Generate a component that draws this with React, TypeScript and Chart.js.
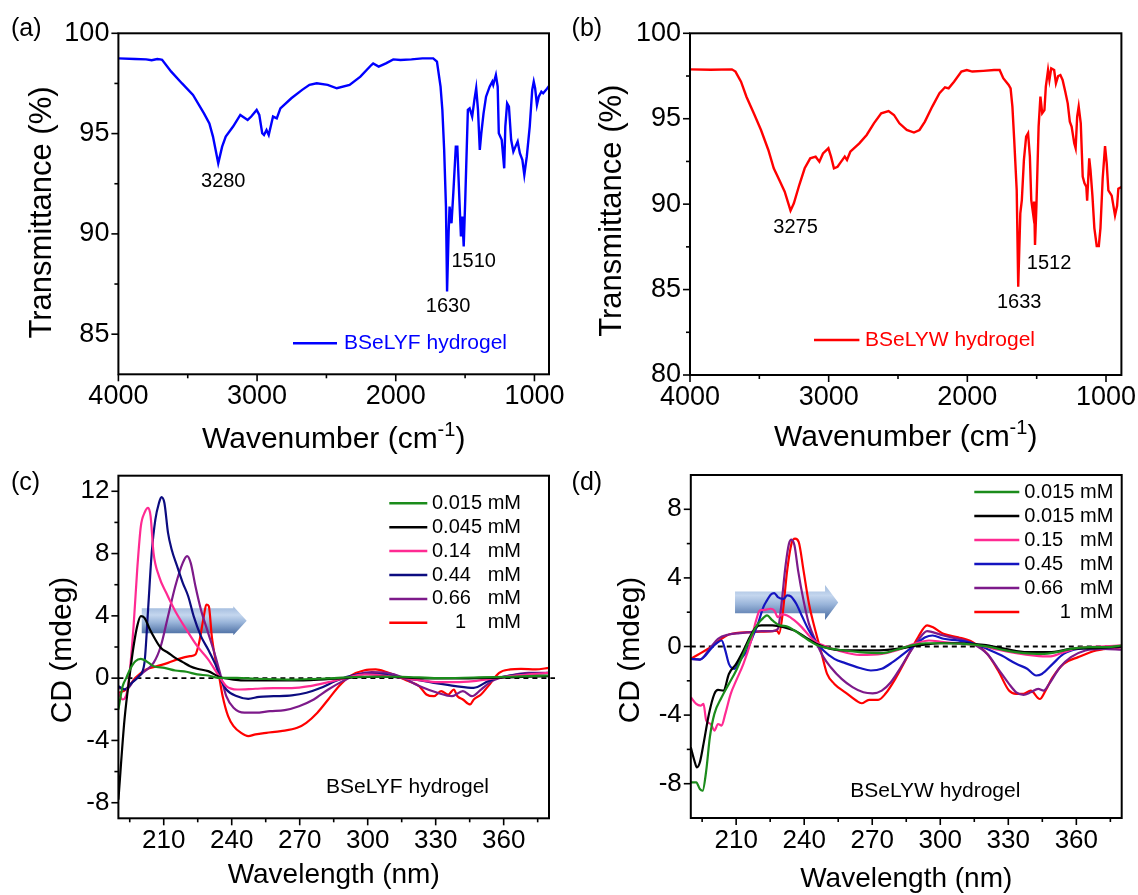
import React, { useEffect, useRef } from "react";
import { Chart, registerables } from "chart.js";

Chart.register(...registerables);

const FONT = "'Liberation Sans', Arial, Helvetica, sans-serif";

type Pt = [number, number];

// ---------- FTIR spectra: [wavenumber (cm-1), transmittance (%)] ----------
const ftirBSeLYF: Pt[] = [
  [4000, 98.75], [3880, 98.72], [3800, 98.7], [3760, 98.66], [3720, 98.72], [3698, 98.7], [3685, 98.68],
  [3619, 98.09], [3541, 97.5], [3462, 96.93], [3383, 96.01], [3344, 95.51], [3318, 94.85], [3280, 93.52],
  [3252, 94.35], [3226, 94.85], [3173, 95.35], [3121, 95.93], [3068, 95.68], [3042, 95.85], [3003, 96.18],
  [2984, 95.93], [2963, 95.02], [2950, 94.93], [2932, 95.18], [2916, 94.93], [2885, 95.85], [2858, 95.76],
  [2832, 96.26], [2753, 96.76], [2675, 97.18], [2622, 97.43], [2570, 97.51], [2491, 97.43], [2425, 97.26],
  [2333, 97.43], [2255, 97.84], [2176, 98.42], [2163, 98.5], [2123, 98.34], [2071, 98.5], [2018, 98.7],
  [1966, 98.67], [1887, 98.7], [1808, 98.75], [1730, 98.75], [1703, 98.59], [1677, 97.34], [1664, 96.18],
  [1651, 94.19], [1638, 91.36], [1630, 87.13], [1619, 90.03], [1612, 91.36], [1598, 90.53], [1585, 92.03],
  [1567, 94.35], [1556, 94.35], [1541, 91.69], [1530, 89.87], [1520, 90.86], [1510, 89.37], [1499, 91.69],
  [1480, 96.18], [1467, 96.26], [1449, 95.85], [1433, 96.68], [1420, 97.26], [1407, 96.18], [1394, 94.19],
  [1383, 95.02], [1367, 96.01], [1349, 96.84], [1323, 97.34], [1304, 97.59], [1297, 97.43], [1278, 97.92],
  [1265, 97.34], [1257, 95.02], [1236, 94.69], [1218, 93.27], [1210, 95.35], [1197, 96.51], [1184, 96.35],
  [1168, 94.69], [1152, 94.1], [1137, 94.35], [1121, 94.6], [1105, 94.02], [1087, 93.69], [1073, 92.94],
  [1055, 93.86], [1034, 95.35], [1016, 97.18], [1005, 97.59], [995, 97.26], [982, 96.43], [969, 96.84],
  [950, 97.09], [937, 97.01], [916, 97.18], [895, 97.38],
];

const ftirBSeLYW: Pt[] = [
  [4000, 97.89], [3850, 97.87], [3698, 97.89], [3672, 97.76], [3632, 97.17], [3593, 96.29], [3540, 95.32],
  [3488, 94.34], [3435, 93.17], [3396, 92.1], [3356, 91.41], [3317, 90.73], [3291, 90.05], [3275, 89.62],
  [3251, 90.05], [3212, 91.12], [3173, 92.1], [3133, 92.68], [3094, 92.78], [3067, 92.49], [3041, 92.97],
  [3002, 93.27], [2983, 92.78], [2962, 92.1], [2936, 92.19], [2910, 92.49], [2884, 92.78], [2868, 92.59],
  [2844, 93.07], [2779, 93.56], [2726, 94.05], [2674, 94.73], [2621, 95.32], [2568, 95.45], [2529, 95.22],
  [2490, 94.73], [2437, 94.34], [2385, 94.19], [2345, 94.34], [2306, 94.83], [2253, 95.71], [2201, 96.49],
  [2161, 96.84], [2135, 96.78], [2096, 97.17], [2043, 97.76], [2004, 97.85], [1964, 97.76], [1885, 97.8],
  [1807, 97.85], [1767, 97.85], [1741, 97.37], [1702, 96.98], [1688, 96.78], [1675, 95.71], [1662, 93.76],
  [1644, 90.83], [1633, 85.17], [1618, 89.46], [1607, 90.24], [1592, 92.59], [1576, 93.95], [1562, 94.15],
  [1549, 92.78], [1539, 90.24], [1526, 89.46], [1518, 90.15], [1512, 87.61], [1502, 89.85], [1486, 94.54],
  [1473, 96.29], [1460, 95.32], [1444, 95.51], [1434, 96.88], [1418, 97.85], [1408, 97.27], [1395, 97.95],
  [1374, 97.85], [1361, 97.07], [1345, 97.5], [1329, 97.56], [1313, 97.27], [1294, 96.59], [1276, 95.9],
  [1261, 94.83], [1248, 94.54], [1229, 93.56], [1219, 93.27], [1208, 95.12], [1197, 95.71], [1182, 94.73],
  [1168, 91.61], [1155, 91.22], [1142, 91.02], [1136, 90.2], [1121, 92.68], [1112, 92.0], [1098, 90.5],
  [1084, 88.6], [1067, 87.55], [1052, 87.55], [1040, 88.6], [1024, 91.5], [1007, 93.4], [995, 92.4],
  [983, 90.8], [959, 90.5], [935, 89.34], [920, 89.9], [911, 90.9], [889, 91.0],
];

const ftirTicksX = [4000, 3000, 2000, 1000];
const ftirMinorX = [3500, 2500, 1500];
const ftirTicksYA = [85, 90, 95, 100];
const ftirMinorYA = [87.5, 92.5, 97.5];
const ftirTicksYB = [80, 85, 90, 95, 100];
const ftirMinorYB = [82.5, 87.5, 92.5, 97.5];

const peaksA = [3280, 1630, 1510];
const peaksB = [3275, 1633, 1512];

// ---------- CD spectra: [wavelength (nm), CD (mdeg)] ----------
const cdTicksX = [210, 240, 270, 300, 330, 360];
const cdMinorX = [195, 225, 255, 285, 315, 345, 375];
const cdTicksYC = [-8, -4, 0, 4, 8, 12];
const cdMinorYC = [-6, -2, 2, 6, 10];
const cdTicksYD = [-8, -4, 0, 4, 8];
const cdMinorYD = [-6, -2, 2, 6];

const concC = ["0.015", "0.045", "0.14", "0.44", "0.66", "1"];
const concD = ["0.015", "0.015", "0.15", "0.45", "0.66", "1"];
const colorsC = ["#1b8c1b", "#000000", "#ff2a92", "#0c0c80", "#7d1a8a", "#ff0000"];
const colorsD = ["#1b8c1b", "#000000", "#ff2a92", "#1414c0", "#7d1a8a", "#ff0000"];

const cdC_0015: Pt[] = [
  [190, -2.01], [191.9, -0.51], [193.5, 0.02], [195.1, 0.56], [197.5, 1.09], [199.9, 1.24], [202.3, 1.09],
  [205.5, 0.77], [210.3, 0.66], [215.1, 0.49], [220, 0.41], [224.8, 0.24], [229.6, 0.17], [234.4, 0.02],
  [242.4, 0.02], [250.5, -0.04], [266.5, -0.09], [282.6, -0.02], [298.6, 0.09], [314.7, 0.09], [330.8, 0],
  [346.8, 0.04], [362.9, 0.09], [380, 0.17],
];
const cdC_0045: Pt[] = [
  [190, -7.8], [192.7, -2.65], [195.1, 0.34], [196.7, 2.05], [198.3, 3.34], [199.9, 3.98], [201.5, 3.87],
  [203.9, 3.12], [206.3, 2.48], [208.7, 1.95], [211.9, 1.63], [215.1, 1.3], [218.4, 1.03], [221.6, 0.77],
  [224.8, 0.6], [229.6, 0.45], [234.4, 0.09], [240.8, -0.09], [247.3, -0.15], [258.5, -0.15], [274.6, -0.13],
  [290.6, 0.02], [306.7, 0.09], [322.7, 0], [338.8, -0.02], [354.8, 0.02], [370.9, 0.09], [380, 0.13],
];
const cdC_014: Pt[] = [
  [190, -0.94], [191.9, -1.37], [194.3, -0.51], [196.7, 3.34], [198.3, 6.97], [199.9, 9.75], [201.5, 10.61],
  [203.1, 10.93], [204.2, 10.4], [205.5, 8.04], [207.9, 6.55], [211.1, 5.48], [215.1, 4.3], [220, 3.12],
  [224.8, 2.05], [229.6, 1.2], [234.4, 0.13], [237.6, -0.51], [242.4, -0.73], [250.5, -0.68], [258.5, -0.64],
  [266.5, -0.64], [274.6, -0.51], [282.6, -0.26], [290.6, 0.02], [298.6, 0.24], [306.7, 0.17], [314.7, 0.02],
  [322.7, -0.13], [330.8, -0.26], [338.8, -0.26], [346.8, -0.19], [354.8, -0.04], [362.9, 0.13], [370.9, 0.24],
  [380, 0.34],
];
const cdC_044: Pt[] = [
  [190, -0.51], [192.7, -0.73], [195.9, -0.3], [199.1, 0.13], [201.5, 0.98], [203.1, 4.41], [204.7, 8.04],
  [206.3, 10.18], [207.9, 11.25], [209.0, 11.63], [210.3, 11.25], [211.9, 9.33], [213.5, 8.26], [215.9, 7.19],
  [218.4, 6.12], [220.8, 5.26], [223.2, 3.98], [226.4, 2.7], [229.6, 1.84], [232.8, 0.88], [235.2, -0.09],
  [237.6, -0.73], [242.4, -1.16], [247.3, -1.33], [252.1, -1.2], [258.5, -1.16], [266.5, -1.11], [273, -0.94],
  [279.4, -0.62], [285.8, -0.19], [292.2, 0.13], [298.6, 0.28], [306.7, 0.24], [314.7, 0.02], [322.7, -0.13],
  [330.8, -0.34], [338.8, -0.51], [346.8, -0.62], [353.2, -0.19], [359.6, 0.09], [367.6, 0.24], [380, 0.34],
];
const cdC_066: Pt[] = [
  [190, -0.62], [193.5, -0.73], [196.7, -0.19], [200.7, 0.34], [205.5, 0.98], [208.7, 2.05], [211.9, 3.98],
  [215.1, 5.9], [218.4, 7.4], [220.3, 7.83], [221.9, 7.4], [224, 5.9], [226.4, 4.41], [229.6, 2.91],
  [232.8, 1.41], [235.2, 0.13], [237.6, -1.16], [240.8, -1.9], [245.6, -2.22], [250.5, -2.22], [256.9, -2.12],
  [263.4, -2.05], [269.7, -1.8], [276.2, -1.37], [282.6, -0.73], [289, -0.19], [295.4, 0.24], [301.9, 0.39],
  [308.3, 0.34], [314.7, 0.09], [322.7, -0.51], [330.8, -0.94], [337.2, -1.16], [342, -0.83], [346, -1.16],
  [350, -0.73], [354.8, -0.19], [362.9, 0.17], [370.9, 0.34], [380, 0.34],
];
const cdC_1: Pt[] = [
  [190, -0.94], [193.5, -0.73], [197.5, 0.02], [202.3, 0.56], [207.1, 0.77], [211.9, 0.98], [216.7, 1.24],
  [221.6, 1.41], [224, 1.52], [225.6, 2.27], [227.7, 3.98], [228.8, 4.73], [229.9, 4.62], [231.2, 2.7],
  [232.8, 1.2], [234.4, 0.13], [236, -1.16], [238.4, -2.44], [240.8, -3.08], [244.1, -3.51], [247.3, -3.72],
  [250.5, -3.61], [255.3, -3.51], [261.7, -3.4], [268.9, -3.19], [272.9, -2.87], [277.8, -2.22], [282.6, -1.37],
  [287.4, -0.51], [292.2, 0.13], [298.6, 0.51], [303.5, 0.56], [308.3, 0.39], [313.1, 0.13], [317.9, -0.19],
  [322.7, -0.51], [325.9, -1.05], [329.2, -1.16], [332.4, -0.83], [335.6, -1.05], [338, -0.73], [339.6, -1.16],
  [342, -1.37], [345.2, -1.69], [346.8, -1.37], [350, -1.05], [353.2, -0.51], [358, 0.34], [362.9, 0.56],
  [367.6, 0.6], [374.1, 0.56], [380, 0.66],
];

const cdD_0015a: Pt[] = [
  [190, -7.92], [192.4, -7.92], [194, -8.31], [195.2, -8.41], [196.8, -7.24], [198.4, -5.29], [200.4, -3.93],
  [203.6, -2.96], [206.8, -2.18], [210, -1.4], [213.2, -0.43], [216.4, 0.54], [219.6, 1.32], [222, 1.67],
  [223.6, 1.81], [226, 1.52], [229.3, 1.23], [232.5, 1.17], [235.7, 0.93], [238.9, 0.64], [242.1, 0.35],
  [245.3, 0.1], [248.5, -0.04], [254.9, -0.19], [264.5, -0.33], [274.2, -0.39], [280.6, -0.19], [287, 0.06],
  [293.4, 0.19], [301.4, 0.19], [309.5, 0.16], [315.9, 0.1], [322.3, -0.04], [328.7, -0.23], [336.7, -0.39],
  [344.8, -0.43], [351.2, -0.33], [357.6, -0.14], [365.6, -0.04], [373.6, -0.04], [380, 0.06],
];
const cdD_0015b: Pt[] = [
  [190, -5.88], [191.6, -6.66], [192.7, -7.05], [194, -6.75], [195.6, -5.68], [198, -3.93], [200.4, -2.76],
  [202, -2.53], [204.4, -2.57], [206.8, -1.6], [210, -1.01], [213.2, -0.23], [216.4, 0.64], [218.8, 1.13],
  [221.2, 1.23], [226, 1.23], [230.9, 1.13], [235.7, 0.93], [240.5, 0.55], [245.3, 0.16], [251.7, -0.14],
  [261.3, -0.23], [271, -0.23], [280.6, -0.14], [290.2, 0.06], [299.8, 0.19], [309.5, 0.19], [319.1, 0.1],
  [328.7, -0.14], [338.3, -0.33], [348, -0.33], [357.6, -0.14], [367.2, -0.1], [380, 0],
];
const cdD_015: Pt[] = [
  [190, -2.96], [192.4, -3.35], [194.3, -3.45], [195.6, -3.35], [196.8, -4.32], [198.8, -4.52], [200.4, -4.9],
  [202, -4.52], [203.6, -4.61], [205.2, -3.93], [207.6, -2.76], [210, -1.99], [213.2, -1.01], [216.4, 0.25],
  [218.8, 1.52], [220.4, 2.1], [222.8, 2.14], [225.2, 2.2], [226.8, 2.1], [228.4, 1.71], [230, 1.87],
  [232.5, 1.81], [235.7, 1.52], [238.9, 1.13], [242.1, 0.64], [245.3, 0.25], [248.5, 0.06], [254.9, -0.23],
  [264.5, -0.49], [274.2, -0.43], [280.6, -0.23], [288.6, 0.16], [295, 0.35], [301.4, 0.25], [309.5, 0.16],
  [317.5, 0.06], [325.5, -0.19], [333.5, -0.39], [341.6, -0.53], [348, -0.58], [354.4, -0.33], [360.8, -0.08],
  [370.4, 0], [380, 0.06],
];
const cdD_045: Pt[] = [
  [190, -0.72], [194, -0.76], [196.4, -0.53], [198.8, -0.14], [202, 0.25], [203.6, 0.35], [205.2, -0.23],
  [206.8, -1.01], [209.2, -1.3], [211.6, -0.82], [214.8, -0.23], [217.2, 0.54], [219.6, 1.32], [222, 2.3],
  [223.6, 2.69], [225.2, 3.02], [226.8, 3.11], [228.4, 2.88], [230.9, 2.78], [232.5, 2.98], [234.1, 2.92],
  [236.5, 2.49], [238.9, 1.81], [242.1, 0.93], [245.3, 0.25], [248.5, -0.23], [253.3, -0.72], [258.1, -0.97],
  [264.5, -1.25], [269.4, -1.4], [274.2, -1.3], [279, -0.91], [283.8, -0.43], [288.6, 0.06], [293.4, 0.54],
  [296.6, 0.64], [301.4, 0.45], [307.9, 0.35], [314.3, 0.19], [320.7, -0.14], [327.1, -0.53], [333.5, -1.01],
  [338.3, -1.3], [342.3, -1.69], [344.8, -1.6], [349.6, -1.01], [354.4, -0.43], [360.8, -0.14], [368.8, -0.08],
  [380, 0],
];
const cdD_066: Pt[] = [
  [190, -0.72], [194, -0.76], [198.8, -0.04], [202, 0.45], [206.8, 0.7], [211.6, 0.78], [216.4, 0.84],
  [221.2, 0.9], [226, 0.9], [228.4, 1.03], [230, 2.49], [231.7, 4.63], [233.3, 6.0], [234.4, 6.23],
  [235.7, 5.9], [237.3, 4.44], [239.7, 2.69], [242.1, 1.32], [245.3, 0.25], [248.5, -0.62], [251.7, -1.21],
  [256.5, -1.89], [261.3, -2.37], [266.1, -2.67], [270.2, -2.73], [274.2, -2.57], [278.2, -2.08], [282.2, -1.3],
  [286.2, -0.43], [290.2, 0.35], [294.2, 0.9], [296.6, 0.84], [301.4, 0.64], [307.9, 0.45], [314.3, 0.16],
  [320.7, -0.43], [325.5, -1.3], [330.3, -2.18], [333.5, -2.67], [336.7, -2.82], [339.9, -2.67], [343.2, -2.47],
  [345.6, -2.57], [348, -2.18], [352.8, -1.21], [357.6, -0.62], [364, -0.23], [372, -0.14], [380, -0.19],
];
const cdD_1: Pt[] = [
  [190, -0.72], [198.8, -0.04], [206.8, 0.7], [216.4, 0.84], [226, 0.9], [228, 0.93], [228.9, 0.74],
  [230.5, 1.91], [232.5, 4.44], [234.4, 6.0], [236, 6.29], [237.6, 6.09], [239.7, 4.44], [242.1, 2.49],
  [245.3, 0.74], [247.7, -0.43], [250.1, -1.6], [253.3, -2.18], [258.1, -2.67], [262.9, -3.15], [265.3, -3.31],
  [268.6, -3.11], [272.6, -3.11], [275.8, -2.76], [280.6, -1.79], [285.4, -0.62], [290.2, 0.54], [294.2, 1.23],
  [296.6, 1.13], [301.4, 0.74], [307.9, 0.54], [314.3, 0.25], [320.7, -0.43], [325.5, -1.4], [330.3, -2.57],
  [333.5, -2.76], [336.7, -2.76], [339.9, -2.57], [343.9, -3.06], [346.4, -2.57], [349.6, -1.79], [354.4, -1.01],
  [360.8, -0.62], [368.8, -0.23], [380, -0.04],
];

// ---------- panel layout & decoration ----------
interface Series { label: string; data: Pt[]; color: string }

interface PanelCfg {
  left: number; top: number; w: number; h: number;
  area: { left: number; top: number; right: number; bottom: number };
  xMin: number; xMax: number; reverse: boolean; yMin: number; yMax: number;
  xMajor: number[]; xMinor: number[]; yMajor: number[]; yMinor: number[];
  tickSize: number; xTickPad: number; yTickPad: number;
  series: Series[]; lineWidth: number; smooth: boolean;
  panelLabel: { text: string; x: number; y: number };
  yTitle: { text: string; x: number; y: number; size: number };
  xTitle: { text: string; sup?: string; tail?: string; y: number; size: number };
  peaks?: { values: number[]; offsets: Pt[]; size: number };
  irLegend?: { x0: number; x1: number; y: number; textX: number; size: number };
  cdLegend?: { x0: number; x1: number; y0: number; dy: number; numX: number; unitRight: number; oneX: number; size: number; labels: string[] };
  note?: { text: string; x: number; y: number; size: number };
  zeroLine?: { extend: number };
  arrow?: { from: number; base: number; tip: number; y: number; body: number; head: number };
}

function font(size: number) {
  return `${size}px ${FONT}`;
}

function makeDecor(p: PanelCfg) {
  return {
    id: "decor",
    beforeDatasetsDraw(chart: any) {
      const { ctx, chartArea: a, scales } = chart;
      const xs = scales.x;
      const ys = scales.y;
      ctx.save();
      if (p.zeroLine) {
        const y0 = ys.getPixelForValue(0);
        ctx.strokeStyle = "#000";
        ctx.lineWidth = 1.8;
        ctx.setLineDash([5, 4]);
        ctx.beginPath();
        ctx.moveTo(a.left, y0);
        ctx.lineTo(a.right + p.zeroLine.extend, y0);
        ctx.stroke();
        ctx.setLineDash([]);
      }
      if (p.arrow) {
        const ar = p.arrow;
        const x0 = xs.getPixelForValue(ar.from);
        const x1 = xs.getPixelForValue(ar.base);
        const xt = xs.getPixelForValue(ar.tip);
        const yc = ys.getPixelForValue(ar.y);
        const g = ctx.createLinearGradient(0, yc - ar.head, 0, yc + ar.head);
        g.addColorStop(0, "#9fb9dc");
        g.addColorStop(0.3, "#c4d6ee");
        g.addColorStop(0.55, "#9ab5da");
        g.addColorStop(1, "#45689e");
        ctx.fillStyle = g;
        ctx.beginPath();
        ctx.moveTo(x0, yc - ar.body);
        ctx.lineTo(x1, yc - ar.body);
        ctx.lineTo(x1, yc - ar.head);
        ctx.lineTo(xt, yc);
        ctx.lineTo(x1, yc + ar.head);
        ctx.lineTo(x1, yc + ar.body);
        ctx.lineTo(x0, yc + ar.body);
        ctx.closePath();
        ctx.fill();
      }
      ctx.restore();
    },
    afterDatasetsDraw(chart: any) {
      const { ctx, chartArea: a, scales } = chart;
      const xs = scales.x;
      const ys = scales.y;
      ctx.save();

      // frame
      ctx.strokeStyle = "#000";
      ctx.lineWidth = 2;
      ctx.strokeRect(a.left, a.top, a.right - a.left, a.bottom - a.top);

      // outward ticks
      ctx.lineWidth = 1.6;
      const tickX = (v: number, len: number) => {
        const px = xs.getPixelForValue(v);
        ctx.beginPath();
        ctx.moveTo(px, a.bottom);
        ctx.lineTo(px, a.bottom + len);
        ctx.stroke();
      };
      const tickY = (v: number, len: number) => {
        const py = ys.getPixelForValue(v);
        ctx.beginPath();
        ctx.moveTo(a.left, py);
        ctx.lineTo(a.left - len, py);
        ctx.stroke();
      };
      p.xMajor.forEach((v) => tickX(v, 7));
      p.xMinor.forEach((v) => tickX(v, 4));
      p.yMajor.forEach((v) => tickY(v, 7));
      p.yMinor.forEach((v) => tickY(v, 4));

      ctx.fillStyle = "#000";

      // panel letter
      ctx.font = font(25);
      ctx.textAlign = "left";
      ctx.textBaseline = "alphabetic";
      ctx.fillText(p.panelLabel.text, p.panelLabel.x, p.panelLabel.y);

      // y title
      ctx.save();
      ctx.translate(p.yTitle.x, p.yTitle.y);
      ctx.rotate(-Math.PI / 2);
      ctx.font = font(p.yTitle.size);
      ctx.textAlign = "center";
      ctx.textBaseline = "middle";
      ctx.fillText(p.yTitle.text, 0, 0);
      ctx.restore();

      // x title (optional superscript)
      {
        const t = p.xTitle;
        const supSize = Math.round(t.size * 0.66);
        ctx.font = font(t.size);
        const w1 = ctx.measureText(t.text).width;
        const w3 = t.tail ? ctx.measureText(t.tail).width : 0;
        ctx.font = font(supSize);
        const w2 = t.sup ? ctx.measureText(t.sup).width : 0;
        const cx = (a.left + a.right) / 2;
        let x = cx - (w1 + w2 + w3) / 2;
        ctx.textAlign = "left";
        ctx.textBaseline = "alphabetic";
        ctx.font = font(t.size);
        ctx.fillText(t.text, x, t.y);
        x += w1;
        if (t.sup) {
          ctx.font = font(supSize);
          ctx.fillText(t.sup, x, t.y - t.size * 0.4);
          x += w2;
        }
        if (t.tail) {
          ctx.font = font(t.size);
          ctx.fillText(t.tail, x, t.y);
        }
      }

      // peak positions
      if (p.peaks) {
        ctx.font = font(p.peaks.size);
        ctx.textAlign = "center";
        ctx.textBaseline = "alphabetic";
        const data = p.series[0].data;
        p.peaks.values.forEach((wn, i) => {
          const pt = data.find((d) => d[0] === wn);
          const yv = pt ? pt[1] : p.yMin;
          const [dx, dy] = p.peaks!.offsets[i];
          ctx.fillText(String(wn), xs.getPixelForValue(wn) + dx, ys.getPixelForValue(yv) + dy);
        });
      }

      // single-series legend
      if (p.irLegend) {
        const L = p.irLegend;
        const s = p.series[0];
        ctx.strokeStyle = s.color;
        ctx.lineWidth = 2.5;
        ctx.beginPath();
        ctx.moveTo(L.x0, L.y);
        ctx.lineTo(L.x1, L.y);
        ctx.stroke();
        ctx.fillStyle = s.color;
        ctx.font = font(L.size);
        ctx.textAlign = "left";
        ctx.textBaseline = "middle";
        ctx.fillText(s.label, L.textX, L.y);
      }

      // concentration legend
      if (p.cdLegend) {
        const L = p.cdLegend;
        ctx.font = font(L.size);
        ctx.textBaseline = "middle";
        p.series.forEach((s, i) => {
          const y = L.y0 + i * L.dy;
          ctx.strokeStyle = s.color;
          ctx.lineWidth = 2.5;
          ctx.beginPath();
          ctx.moveTo(L.x0, y);
          ctx.lineTo(L.x1, y);
          ctx.stroke();
          ctx.fillStyle = "#000";
          const num = L.labels[i];
          ctx.textAlign = "left";
          ctx.fillText(num, num.length === 1 ? L.oneX : L.numX, y);
          ctx.textAlign = "right";
          ctx.fillText("mM", L.unitRight, y);
        });
      }

      if (p.note) {
        ctx.fillStyle = "#000";
        ctx.font = font(p.note.size);
        ctx.textAlign = "left";
        ctx.textBaseline = "alphabetic";
        ctx.fillText(p.note.text, p.note.x, p.note.y);
      }

      ctx.restore();
    },
  };
}

function buildConfig(p: PanelCfg): any {
  const zeroPad = (ax: any) => {
    ax.paddingTop = 0;
    ax.paddingBottom = 0;
    ax.paddingLeft = 0;
    ax.paddingRight = 0;
  };
  return {
    type: "line",
    data: {
      datasets: p.series.map((s) => ({
        label: s.label,
        data: s.data.map(([x, y]) => ({ x, y })),
        borderColor: s.color,
        backgroundColor: s.color,
        borderWidth: p.lineWidth,
        pointRadius: 0,
        fill: false,
        tension: 0,
        cubicInterpolationMode: p.smooth ? "monotone" : "default",
      })),
    },
    options: {
      animation: false,
      responsive: false,
      maintainAspectRatio: false,
      events: [],
      layout: { padding: { top: p.area.top, right: p.w - p.area.right, left: 0, bottom: 0 } },
      plugins: { legend: { display: false }, tooltip: { enabled: false } },
      scales: {
        x: {
          type: "linear",
          min: p.xMin,
          max: p.xMax,
          reverse: p.reverse,
          afterBuildTicks: (ax: any) => {
            ax.ticks = p.xMajor.map((v) => ({ value: v }));
          },
          afterFit: (ax: any) => {
            ax.height = p.h - p.area.bottom;
            zeroPad(ax);
          },
          grid: { display: false, drawTicks: false },
          border: { display: false },
          ticks: {
            color: "#000",
            font: { family: FONT, size: p.tickSize },
            padding: p.xTickPad,
            maxRotation: 0,
            autoSkip: false,
            callback: (v: any) => String(v),
          },
        },
        y: {
          type: "linear",
          min: p.yMin,
          max: p.yMax,
          afterBuildTicks: (ax: any) => {
            ax.ticks = p.yMajor.map((v) => ({ value: v }));
          },
          afterFit: (ax: any) => {
            ax.width = p.area.left;
            zeroPad(ax);
          },
          grid: { display: false, drawTicks: false },
          border: { display: false },
          ticks: {
            color: "#000",
            font: { family: FONT, size: p.tickSize },
            padding: p.yTickPad,
            autoSkip: false,
            callback: (v: any) => String(v),
          },
        },
      },
    },
    plugins: [makeDecor(p)],
  };
}

const panelA: PanelCfg = {
  left: 0, top: 0, w: 568, h: 460,
  area: { left: 118.4, top: 33.3, right: 549, bottom: 374.3 },
  xMin: 895, xMax: 4000, reverse: true, yMin: 83, yMax: 100,
  xMajor: ftirTicksX, xMinor: ftirMinorX, yMajor: ftirTicksYA, yMinor: ftirMinorYA,
  tickSize: 27, xTickPad: 6, yTickPad: 9,
  series: [{ label: "BSeLYF hydrogel", data: ftirBSeLYF, color: "#0000ff" }],
  lineWidth: 2.4, smooth: false,
  panelLabel: { text: "(a)", x: 11, y: 36 },
  yTitle: { text: "Transmittance (%)", x: 42, y: 212.5, size: 31 },
  xTitle: { text: "Wavenumber (cm", sup: "-1", tail: ")", y: 448, size: 30 },
  peaks: { values: peaksA, offsets: [[5, 23.7], [1, 20.5], [10, 20.5]], size: 20 },
  irLegend: { x0: 293, x1: 337, y: 343.3, textX: 344, size: 21 },
};

const panelB: PanelCfg = {
  left: 568, top: 0, w: 570, h: 460,
  area: { left: 122, top: 33.3, right: 553.4, bottom: 375 },
  xMin: 889, xMax: 4000, reverse: true, yMin: 80, yMax: 100,
  xMajor: ftirTicksX, xMinor: ftirMinorX, yMajor: ftirTicksYB, yMinor: ftirMinorYB,
  tickSize: 27, xTickPad: 6, yTickPad: 9,
  series: [{ label: "BSeLYW hydrogel", data: ftirBSeLYW, color: "#ff0000" }],
  lineWidth: 2.4, smooth: false,
  panelLabel: { text: "(b)", x: 3.6, y: 36 },
  yTitle: { text: "Transmittance (%)", x: 44.7, y: 210.7, size: 31 },
  xTitle: { text: "Wavenumber (cm", sup: "-1", tail: ")", y: 446, size: 30 },
  peaks: { values: peaksB, offsets: [[5, 22.4], [1, 21.3], [14, 24]], size: 20 },
  irLegend: { x0: 246, x1: 291.4, y: 340, textX: 297, size: 21 },
};

const seriesC: Series[] = [cdC_0015, cdC_0045, cdC_014, cdC_044, cdC_066, cdC_1].map((d, i) => ({
  label: `${concC[i]} mM`, data: d, color: colorsC[i],
}));
const seriesD: Series[] = [cdD_0015a, cdD_0015b, cdD_015, cdD_045, cdD_066, cdD_1].map((d, i) => ({
  label: `${concD[i]} mM`, data: d, color: colorsD[i],
}));

const panelC: PanelCfg = {
  left: 0, top: 460, w: 568, h: 435,
  area: { left: 118.4, top: 15.7, right: 549, bottom: 358.3 },
  xMin: 190, xMax: 380, reverse: false, yMin: -9, yMax: 13,
  xMajor: cdTicksX, xMinor: cdMinorX, yMajor: cdTicksYC, yMinor: cdMinorYC,
  tickSize: 26, xTickPad: 7, yTickPad: 9,
  series: seriesC, lineWidth: 2.2, smooth: true,
  panelLabel: { text: "(c)", x: 11, y: 30 },
  yTitle: { text: "CD (mdeg)", x: 63, y: 190, size: 30 },
  xTitle: { text: "Wavelength (nm)", y: 423.3, size: 28 },
  cdLegend: { x0: 389.3, x1: 427.3, y0: 43.3, dy: 23.9, numX: 432, unitRight: 521, oneX: 455, size: 20, labels: concC },
  note: { text: "BSeLYF hydrogel", x: 326, y: 333.3, size: 21 },
  zeroLine: { extend: 6 },
  arrow: { from: 200.3, base: 240.7, tip: 246.6, y: 3.68, body: 12.5, head: 14.5 },
};

const panelD: PanelCfg = {
  left: 568, top: 460, w: 570, h: 435,
  area: { left: 122.8, top: 15, right: 553.7, bottom: 358 },
  xMin: 190, xMax: 380, reverse: false, yMin: -10, yMax: 10,
  xMajor: cdTicksX, xMinor: cdMinorX, yMajor: cdTicksYD, yMinor: cdMinorYD,
  tickSize: 26, xTickPad: 7, yTickPad: 9,
  series: seriesD, lineWidth: 2.2, smooth: true,
  panelLabel: { text: "(d)", x: 3.6, y: 30 },
  yTitle: { text: "CD (mdeg)", x: 62.9, y: 190, size: 30 },
  xTitle: { text: "Wavelength (nm)", y: 426.7, size: 28 },
  cdLegend: { x0: 406.3, x1: 451.3, y0: 32, dy: 24, numX: 456.3, unitRight: 545.4, oneX: 491.8, size: 20, labels: concD },
  note: { text: "BSeLYW hydrogel", x: 282.3, y: 337.3, size: 21 },
  zeroLine: { extend: 0 },
  arrow: { from: 209.5, base: 249.2, tip: 255.0, y: 2.57, body: 10.8, head: 17.5 },
};

function Panel({ cfg }: { cfg: PanelCfg }) {
  const ref = useRef<HTMLCanvasElement | null>(null);
  useEffect(() => {
    if (!ref.current) return;
    const chart = new Chart(ref.current, buildConfig(cfg));
    return () => chart.destroy();
  }, [cfg]);
  return (
    <canvas
      ref={ref}
      width={cfg.w}
      height={cfg.h}
      style={{ position: "absolute", left: cfg.left, top: cfg.top, width: cfg.w, height: cfg.h }}
    />
  );
}

export default function App() {
  return (
    <div style={{ position: "absolute", left: 0, top: 0, width: 1138, height: 895, background: "#fff", overflow: "hidden" }}>
      <Panel cfg={panelA} />
      <Panel cfg={panelB} />
      <Panel cfg={panelC} />
      <Panel cfg={panelD} />
    </div>
  );
}
